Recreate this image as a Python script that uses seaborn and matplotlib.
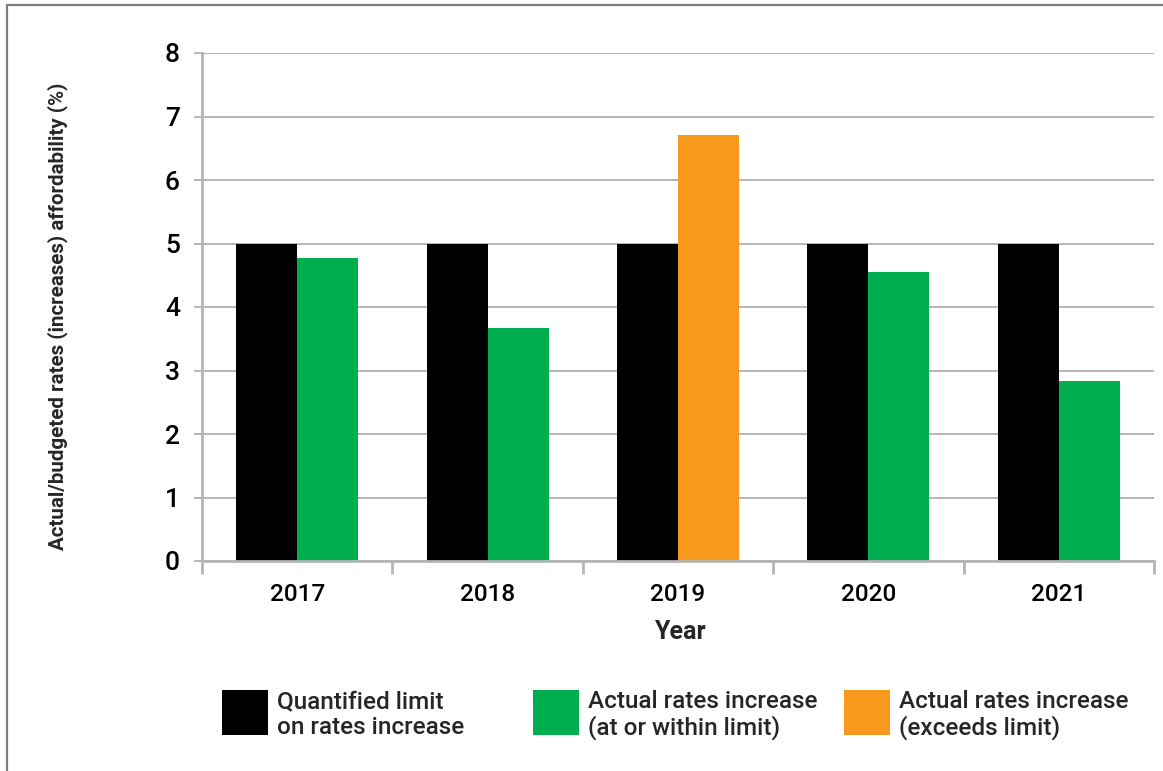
import matplotlib
matplotlib.use("Agg")
import matplotlib.pyplot as plt
import seaborn as sns
import pandas as pd
from matplotlib.patches import Rectangle
from matplotlib.lines import Line2D

# ---- data ----
years = ["2017", "2018", "2019", "2020", "2021"]
limit_values = [5.0, 5.0, 5.0, 5.0, 5.0]
actual_values = [4.77, 3.67, 6.71, 4.55, 2.83]
exceeds_limit = [False, False, True, False, False]
legend_labels = ["Quantified limit\non rates increase",
                 "Actual rates increase\n(at or within limit)",
                 "Actual rates increase\n(exceeds limit)"]
y_ticks = [0, 1, 2, 3, 4, 5, 6, 7, 8]
y_label = "Actual/budgeted rates (increases) affordability (%)"
x_label = "Year"

BLACK = "#000000"
GREEN = "#00AE4F"
ORANGE = "#F8991E"
GRID = "#B5B5B5"

sns.set_theme(style="white")
plt.rcParams['font.family'] = ['Roboto', 'DejaVu Sans']

W, H = 1163, 771
fig = plt.figure(figsize=(W / 100, H / 100), dpi=100)
fig.patch.set_facecolor("white")

ax_l, ax_r, ax_t, ax_b = 202, 1154, 53, 561
ax = fig.add_axes([ax_l / W, 1 - ax_b / H, (ax_r - ax_l) / W, (ax_b - ax_t) / H])

df = pd.DataFrame({
    "Year": years * 2,
    "Series": ["Limit"] * len(years) + ["Actual"] * len(years),
    "Value": limit_values + actual_values,
})

sns.barplot(data=df, x="Year", y="Value", hue="Series", hue_order=["Limit", "Actual"],
            order=years, palette=[BLACK, GREEN], width=0.64, gap=0, saturation=1,
            legend=False, errorbar=None, linewidth=0, ax=ax)

# recolour bars exceeding the limit
for bar, ex in zip(ax.containers[1], exceeds_limit):
    if ex:
        bar.set_facecolor(ORANGE)

ax.set_ylim(0, 8)
ax.set_xlim(-0.5, len(years) - 0.5)
ax.set_yticks(y_ticks)
ax.set_yticklabels([str(t) for t in y_ticks], fontsize=19, fontweight="medium")
ax.yaxis.grid(True, color=GRID, linewidth=1.4)
ax.xaxis.grid(False)
ax.set_axisbelow(True)

for s in ["top", "right"]:
    ax.spines[s].set_visible(False)
for s in ["left", "bottom"]:
    ax.spines[s].set_color(GRID)
    ax.spines[s].set_linewidth(2)

ax.tick_params(axis="y", direction="out", length=6, width=1.4, color=GRID, pad=10,
               left=True, labelcolor="black")
ax.set_xticks(range(len(years)))
ax.set_xticklabels(years, fontsize=17.5, fontweight="medium")
ax.tick_params(axis="x", which="major", length=0, pad=16, labelcolor="black")
ax.set_xticks([i - 0.5 for i in range(len(years) + 1)], minor=True)
ax.tick_params(axis="x", which="minor", direction="out", length=9, width=2, color=GRID,
               bottom=True)
ax.set_xlabel("")
ax.set_ylabel("")

fig.text(58 / W, 1 - 316 / H, y_label, rotation=90, ha="center", va="center",
         fontsize=14.8, fontweight="bold")
fig.text(681 / W, 1 - 632 / H, x_label, ha="center", va="center",
         fontsize=18, fontweight="bold")

# legend (manual layout)
colors = [BLACK, GREEN, ORANGE]
sq_x = [222, 533, 844]
for x0, c, lab in zip(sq_x, colors, legend_labels):
    fig.add_artist(Rectangle((x0 / W, 1 - 735 / H), 46 / W, 45 / H,
                             transform=fig.transFigure, facecolor=c, edgecolor="none"))
    fig.text((x0 + 55) / W, 1 - 715 / H, lab, ha="left", va="center",
             fontsize=17.5, fontweight="medium", linespacing=1.1)

# figure border (top and left)
fig.add_artist(Line2D([7 / W, 7 / W], [0, 1 - 5 / H], transform=fig.transFigure,
                      color="#7F7F7F", linewidth=1.6))
fig.add_artist(Line2D([7 / W, 1], [1 - 5 / H, 1 - 5 / H], transform=fig.transFigure,
                      color="#7F7F7F", linewidth=1.6))

fig.savefig("out.png", dpi=100)
